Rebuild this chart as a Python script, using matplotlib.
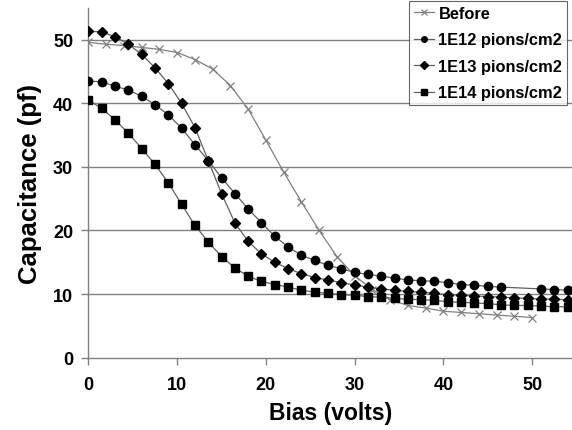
import matplotlib
matplotlib.use("Agg")
import matplotlib.pyplot as plt

plt.rcParams['font.family'] = ['Liberation Sans', 'DejaVu Sans']

before_x = [0, 2, 4, 6, 8, 10, 12, 14, 16, 18, 20, 22, 24, 26, 28, 30, 32, 34, 36,
            38, 40, 42, 44, 46, 48, 50]
before_y = [49.6, 49.3, 49.1, 48.8, 48.5, 48.0, 46.9, 45.4, 42.8, 39.1, 34.2, 29.2,
            24.5, 20.0, 15.9, 12.9, 10.7, 9.1, 8.2, 7.8, 7.3, 7.1, 6.9, 6.7, 6.5, 6.3]

e12_x = [0, 1.5, 3, 4.5, 6, 7.5, 9, 10.5, 12, 13.5, 15, 16.5, 18, 19.5, 21, 22.5,
         24, 25.5, 27, 28.5, 30, 31.5, 33, 34.5, 36, 37.5, 39, 40.5, 42, 43.5, 45,
         46.5, 51, 52.5, 54]
e12_y = [43.5, 43.4, 42.7, 42.1, 41.1, 39.8, 38.2, 36.1, 33.5, 31.0, 28.3, 25.8,
         23.4, 21.2, 19.1, 17.4, 16.1, 15.3, 14.5, 14.0, 13.4, 13.1, 12.8, 12.5,
         12.2, 12.1, 12.0, 11.8, 11.5, 11.4, 11.2, 11.1, 10.8, 10.7, 10.6]

e13_x = [0, 1.5, 3, 4.5, 6, 7.5, 9, 10.5, 12, 13.5, 15, 16.5, 18, 19.5, 21, 22.5,
         24, 25.5, 27, 28.5, 30, 31.5, 33, 34.5, 36, 37.5, 39, 40.5, 42, 43.5, 45,
         46.5, 48, 49.5, 51, 52.5, 54]
e13_y = [51.4, 51.2, 50.5, 49.3, 47.7, 45.6, 43.1, 40.0, 36.2, 31.0, 25.8, 21.2,
         18.3, 16.3, 15.0, 14.0, 13.2, 12.6, 12.2, 11.8, 11.4, 11.1, 10.8, 10.6,
         10.4, 10.3, 10.1, 9.9, 9.8, 9.7, 9.6, 9.5, 9.4, 9.3, 9.2, 9.2, 9.1]

e14_x = [0, 1.5, 3, 4.5, 6, 7.5, 9, 10.5, 12, 13.5, 15, 16.5, 18, 19.5, 21, 22.5,
         24, 25.5, 27, 28.5, 30, 31.5, 33, 34.5, 36, 37.5, 39, 40.5, 42, 43.5, 45,
         46.5, 48, 49.5, 51, 52.5, 54]
e14_y = [40.5, 39.2, 37.4, 35.3, 32.9, 30.4, 27.5, 24.1, 20.8, 18.2, 15.9, 14.1,
         12.8, 12.0, 11.5, 11.1, 10.6, 10.3, 10.1, 9.9, 9.8, 9.6, 9.5, 9.3, 9.2,
         9.1, 9.0, 8.8, 8.7, 8.6, 8.5, 8.3, 8.2, 8.2, 8.1, 8.0, 8.0]

labels = ["Before", "1E12 pions/cm2", "1E13 pions/cm2", "1E14 pions/cm2"]
x_ticks = [0, 10, 20, 30, 40, 50]
y_ticks = [0, 10, 20, 30, 40, 50]

fig = plt.figure(figsize=(5.72, 4.31), dpi=100)
ax = fig.add_axes([0.1547, 0.168, 1.0 - 0.1547, 0.811])

grid_c = '#808080'
line_c = '#606060'

ax.plot(before_x, before_y, color='#808080', lw=0.9, marker='x', ms=6,
        mew=0.9, mec='#808080', label=labels[0], zorder=3)
ax.plot(e12_x, e12_y, color=line_c, lw=0.9, marker='o', ms=6, mfc='black',
        mec='black', label=labels[1], zorder=4)
ax.plot(e13_x, e13_y, color=line_c, lw=0.9, marker='D', ms=5, mfc='black',
        mec='black', label=labels[2], zorder=4)
ax.plot(e14_x, e14_y, color=line_c, lw=0.9, marker='s', ms=6, mfc='black',
        mec='black', label=labels[3], zorder=4)

ax.set_xlim(0, 54.5)
ax.set_ylim(0, 55)
ax.set_xticks(x_ticks)
ax.set_yticks(y_ticks)
ax.set_xticklabels([str(v) for v in x_ticks], fontsize=13, fontweight='bold')
ax.set_yticklabels([str(v) for v in y_ticks], fontsize=13, fontweight='bold')
ax.tick_params(axis='both', direction='out', length=5, width=1, color=grid_c)
ax.tick_params(axis='x', pad=8)
ax.tick_params(axis='y', pad=6)

for y in y_ticks[1:]:
    ax.axhline(y, color=grid_c, lw=1, zorder=1)

for s in ['top', 'right']:
    ax.spines[s].set_visible(False)
for s in ['left', 'bottom']:
    ax.spines[s].set_color(grid_c)
    ax.spines[s].set_linewidth(1)

ax.set_xlabel("Bias (volts)", fontsize=16.5, fontweight='bold', labelpad=6)
ax.set_ylabel("Capacitance (pf)", fontsize=18.5, fontweight='bold', labelpad=8)

leg = fig.legend(loc='upper left', bbox_to_anchor=(409 / 572, 1 - 2 / 431),
                 prop={'weight': 'bold', 'size': 11.8}, frameon=True,
                 fancybox=False, edgecolor='#404040', handlelength=1.25,
                 handletextpad=0.25, borderpad=0.3, labelspacing=0.7,
                 borderaxespad=0)
leg.get_frame().set_linewidth(0.8)
for h in leg.legend_handles:
    h.set_markersize(4)

fig.savefig("out.png", dpi=100, facecolor='white')
